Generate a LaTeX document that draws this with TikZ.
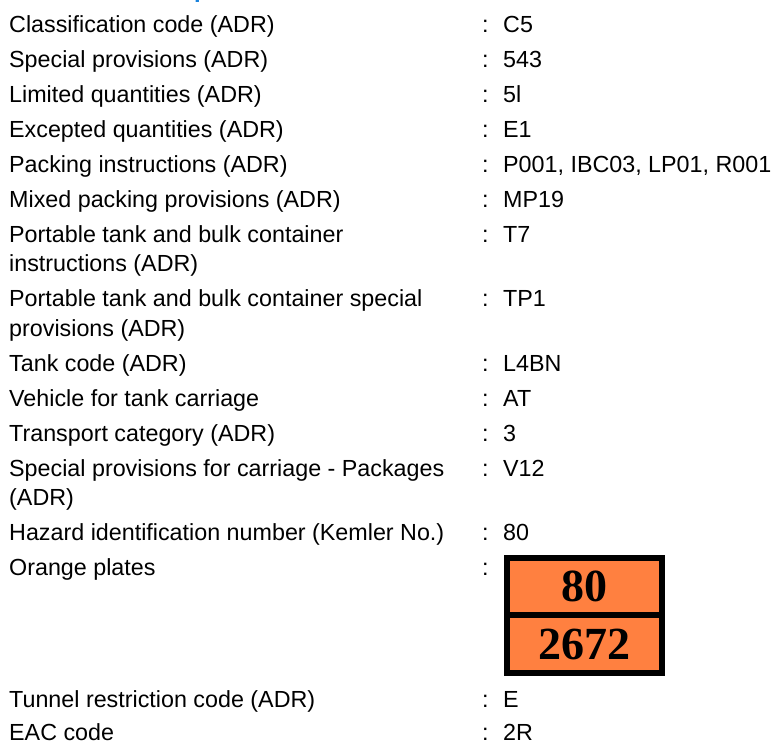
\documentclass[tikz,border=0pt]{standalone}
\usepackage{fontspec}
\setmainfont{Liberation Sans}
\newfontfamily\platefont{Liberation Serif}
\usepackage[]{xcolor}
\definecolor{plateorange}{RGB}{255,128,64}
\definecolor{headblue}{RGB}{25,130,220}

\begin{document}
\begin{tikzpicture}[
            x=1pt, y=-1pt,
            label/.style={anchor=base west, inner sep=0pt, align=left, font=\fontsize{23.3}{29}\selectfont},
            colon/.style={anchor=base west, inner sep=0pt, font=\fontsize{23.3}{29}\selectfont},
            value/.style={anchor=base west, inner sep=0pt, font=\fontsize{23.3}{29}\selectfont},
            plate/.style={rectangle, fill=plateorange, inner sep=0pt, minimum width=149pt, minimum height=51pt, font=\platefont\bfseries\fontsize{46}{46}\selectfont}
        ]
            \useasboundingbox (0,0) rectangle (779,743);
            \begin{scope}
                \clip (0,0) rectangle (779,743);
                \node[anchor=base west, inner sep=0pt, text=headblue, font=\bfseries\fontsize{24}{28}\selectfont] (H) at (194,-2.8) {p};
            \end{scope}

            % multi-line labels sit on the baseline of their last line
            \node[label] (L1) at (9,33) {Classification code (ADR)};
            \node[label] (L2) at (9,68) {Special provisions (ADR)};
            \node[label] (L3) at (9,103) {Limited quantities (ADR)};
            \node[label] (L4) at (9,138) {Excepted quantities (ADR)};
            \node[label] (L5) at (9,173) {Packing instructions (ADR)};
            \node[label] (L6) at (9,208) {Mixed packing provisions (ADR)};
            \node[label] (L7) at (9,272) {Portable tank and bulk container\\instructions (ADR)};
            \node[label] (L8) at (9,336) {Portable tank and bulk container special\\provisions (ADR)};
            \node[label] (L9) at (9,371) {Tank code (ADR)};
            \node[label] (L10) at (9,406) {Vehicle for tank carriage};
            \node[label] (L11) at (9,441) {Transport category (ADR)};
            \node[label] (L12) at (9,505) {Special provisions for carriage - Packages\\(ADR)};
            \node[label] (L13) at (9,540) {Hazard identification number (Kemler No.)};
            \node[label] (L14) at (9,575) {Orange plates};
            \node[label] (L15) at (9,707) {Tunnel restriction code (ADR)};
            \node[label] (L16) at (9,740) {EAC code};

            \node[colon] (S1) at (482,33) {:};
            \node[colon] (S2) at (482,68) {:};
            \node[colon] (S3) at (482,103) {:};
            \node[colon] (S4) at (482,138) {:};
            \node[colon] (S5) at (482,173) {:};
            \node[colon] (S6) at (482,208) {:};
            \node[colon] (S7) at (482,243) {:};
            \node[colon] (S8) at (482,307) {:};
            \node[colon] (S9) at (482,371) {:};
            \node[colon] (S10) at (482,406) {:};
            \node[colon] (S11) at (482,441) {:};
            \node[colon] (S12) at (482,476) {:};
            \node[colon] (S13) at (482,540) {:};
            \node[colon] (S14) at (482,575) {:};
            \node[colon] (S15) at (482,707) {:};
            \node[colon] (S16) at (482,740) {:};

            \node[value] (V1) at (503,33) {C5};
            \node[value] (V2) at (503,68) {543};
            \node[value] (V3) at (503,103) {5l};
            \node[value] (V4) at (503,138) {E1};
            \node[value] (V5) at (503,173) {P001, IBC03, LP01, R001};
            \node[value] (V6) at (503,208) {MP19};
            \node[value] (V7) at (503,243) {T7};
            \node[value] (V8) at (503,307) {TP1};
            \node[value] (V9) at (503,371) {L4BN};
            \node[value] (V10) at (503,406) {AT};
            \node[value] (V11) at (503,441) {3};
            \node[value] (V12) at (503,476) {V12};
            \node[value] (V13) at (503,540) {80};
            \node[value] (V15) at (503,707) {E};
            \node[value] (V16) at (503,740) {2R};

            % orange plate
            \fill[black] (504,555) rectangle (665,676);
            \node[plate] (P1) at (584.5,586.5) {80};
            \node[plate, minimum height=52pt] (P2) at (584.5,644) {2672};
        \end{tikzpicture}
\end{document}
